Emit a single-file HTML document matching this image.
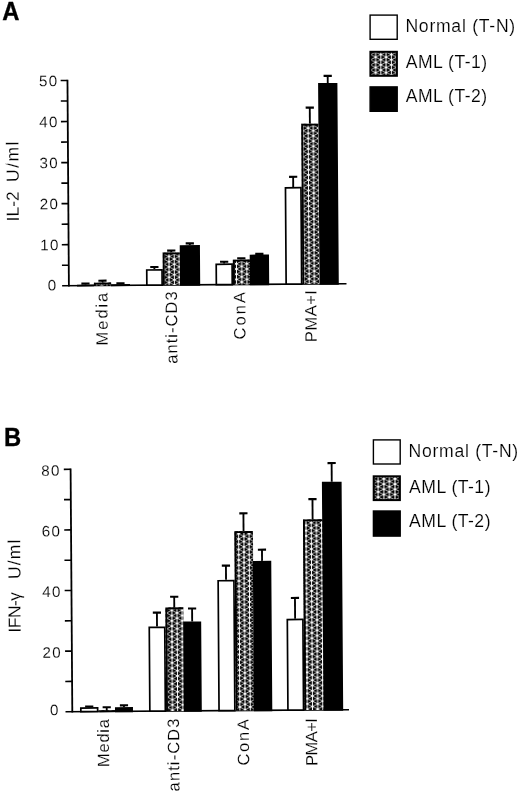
<!DOCTYPE html>
<html><head><meta charset="utf-8"><title>Figure</title>
<style>
html,body{margin:0;padding:0;background:#fff;}
body{width:520px;height:795px;overflow:hidden;font-family:"Liberation Sans",sans-serif;}
svg{display:block;will-change:transform;}
text{font-family:"Liberation Sans",sans-serif;fill:#000;}
.tk,.lg,.xl,.yl{stroke:#fff;stroke-width:0.15px;}
.tk{font-size:15.2px;letter-spacing:1.3px;}
.lg{font-size:17.6px;}
.xl{font-size:16.5px;}
.yl{font-size:17.5px;}
.pl{font-size:25.6px;font-weight:bold;stroke:#000;stroke-width:0.35px;}
</style></head><body>
<svg width="520" height="795" viewBox="0 0 520 795">
<rect width="520" height="795" fill="#fff"/>
<defs><pattern id="hA" patternUnits="userSpaceOnUse" x="169.2" y="257.2" width="10.37" height="5.2">
<rect x="0" y="0" width="10.37" height="5.2" fill="#000"/>
<path d="M0 0L10.37 5.2M0 5.2L10.37 0M0 -5.2L10.37 0M0 10.4L10.37 5.2" stroke="#fff" stroke-width="0.75" fill="none"/>
<path d="M0 -1V6.2M5.185 -1V6.2M10.37 -1V6.2" stroke="#fff" stroke-width="1.05" fill="none"/>
<g fill="#fff"><circle cx="0" cy="0" r="1.05"/><circle cx="10.37" cy="0" r="1.05"/><circle cx="0" cy="5.2" r="1.05"/><circle cx="10.37" cy="5.2" r="1.05"/><circle cx="5.185" cy="2.6" r="1.05"/></g>
</pattern><pattern id="hB" patternUnits="userSpaceOnUse" x="172.5" y="684.55" width="10.37" height="5.25">
<rect x="0" y="0" width="10.37" height="5.25" fill="#000"/>
<path d="M0 0L10.37 5.25M0 5.25L10.37 0M0 -5.25L10.37 0M0 10.5L10.37 5.25" stroke="#fff" stroke-width="0.75" fill="none"/>
<path d="M0 -1V6.25M5.185 -1V6.25M10.37 -1V6.25" stroke="#fff" stroke-width="1.05" fill="none"/>
<g fill="#fff"><circle cx="0" cy="0" r="1.05"/><circle cx="10.37" cy="0" r="1.05"/><circle cx="0" cy="5.25" r="1.05"/><circle cx="10.37" cy="5.25" r="1.05"/><circle cx="5.185" cy="2.625" r="1.05"/></g>
</pattern><pattern id="hLA" patternUnits="userSpaceOnUse" x="375.6" y="57.15" width="10.5" height="5.15">
<rect x="0" y="0" width="10.5" height="5.15" fill="#000"/>
<path d="M0 0L10.5 5.15M0 5.15L10.5 0M0 -5.15L10.5 0M0 10.3L10.5 5.15" stroke="#fff" stroke-width="0.75" fill="none"/>
<path d="M0 -1V6.15M5.25 -1V6.15M10.5 -1V6.15" stroke="#fff" stroke-width="1.05" fill="none"/>
<g fill="#fff"><circle cx="0" cy="0" r="1.05"/><circle cx="10.5" cy="0" r="1.05"/><circle cx="0" cy="5.15" r="1.05"/><circle cx="10.5" cy="5.15" r="1.05"/><circle cx="5.25" cy="2.575" r="1.05"/></g>
</pattern><pattern id="hLB" patternUnits="userSpaceOnUse" x="378.2" y="481.5" width="11.2" height="5.2">
<rect x="0" y="0" width="11.2" height="5.2" fill="#000"/>
<path d="M0 0L11.2 5.2M0 5.2L11.2 0M0 -5.2L11.2 0M0 10.4L11.2 5.2" stroke="#fff" stroke-width="0.75" fill="none"/>
<path d="M0 -1V6.2M5.6 -1V6.2M11.2 -1V6.2" stroke="#fff" stroke-width="1.05" fill="none"/>
<g fill="#fff"><circle cx="0" cy="0" r="1.05"/><circle cx="11.2" cy="0" r="1.05"/><circle cx="0" cy="5.2" r="1.05"/><circle cx="11.2" cy="5.2" r="1.05"/><circle cx="5.6" cy="2.6" r="1.05"/></g>
</pattern></defs>
<g transform="rotate(-0.4 68.9 285.7)"><path d="M68.9 79.70V286.50" stroke="#000" stroke-width="1.8"/>
<path d="M62.10000000000001 285.7H346.5" stroke="#000" stroke-width="1.7"/>
<path d="M62.10000000000001 244.66H68.9" stroke="#000" stroke-width="1.6"/>
<path d="M62.10000000000001 203.62H68.9" stroke="#000" stroke-width="1.6"/>
<path d="M62.10000000000001 162.58H68.9" stroke="#000" stroke-width="1.6"/>
<path d="M62.10000000000001 121.54H68.9" stroke="#000" stroke-width="1.6"/>
<path d="M62.10000000000001 80.50H68.9" stroke="#000" stroke-width="1.6"/>
<path d="M62.10000000000001 265.18H68.9" stroke="#000" stroke-width="1.6"/>
<path d="M62.10000000000001 224.14H68.9" stroke="#000" stroke-width="1.6"/>
<path d="M62.10000000000001 183.10H68.9" stroke="#000" stroke-width="1.6"/>
<path d="M62.10000000000001 142.06H68.9" stroke="#000" stroke-width="1.6"/>
<path d="M62.10000000000001 101.02H68.9" stroke="#000" stroke-width="1.6"/>
<text x="57.50" y="290.30" text-anchor="end" class="tk">0</text>
<text x="59.90" y="250.16" text-anchor="end" class="tk">10</text>
<text x="59.90" y="209.12" text-anchor="end" class="tk">20</text>
<text x="59.90" y="168.08" text-anchor="end" class="tk">30</text>
<text x="59.90" y="127.04" text-anchor="end" class="tk">40</text>
<text x="59.90" y="86.00" text-anchor="end" class="tk">50</text>
<path d="M81.40 283.70H89.60" stroke="#000" stroke-width="2.1" fill="none"/><path d="M85.50 283.70V284.70" stroke="#000" stroke-width="1.85" fill="none"/>
<rect x="77.85" y="285.55" width="15.30" height="0.15" fill="#fff" stroke="#000" stroke-width="1.7"/>
<path d="M98.40 280.90H106.60" stroke="#000" stroke-width="2.1" fill="none"/><path d="M102.50 280.90V282.90" stroke="#000" stroke-width="1.85" fill="none"/>
<rect x="94.00" y="282.90" width="17.30" height="2.80" fill="url(#hA)"/><path d="M94.85 285.70V283.85H111.00" fill="none" stroke="#000" stroke-width="1.9"/>
<path d="M116.40 283.70H124.60" stroke="#000" stroke-width="2.1" fill="none"/><path d="M120.50 283.70V284.50" stroke="#000" stroke-width="1.85" fill="none"/>
<rect x="111.85" y="285.35" width="17.30" height="0.35" fill="#000" stroke="#000" stroke-width="1.7"/>
<path d="M150.40 267.60H158.60" stroke="#000" stroke-width="2.1" fill="none"/><path d="M154.50 267.60V269.70" stroke="#000" stroke-width="1.85" fill="none"/>
<rect x="146.85" y="270.55" width="15.30" height="15.15" fill="#fff" stroke="#000" stroke-width="1.7"/>
<path d="M167.40 251.30H175.60" stroke="#000" stroke-width="2.1" fill="none"/><path d="M171.50 251.30V253.20" stroke="#000" stroke-width="1.85" fill="none"/>
<rect x="163.00" y="253.20" width="17.30" height="32.50" fill="url(#hA)"/><path d="M163.85 285.70V254.15H180.00" fill="none" stroke="#000" stroke-width="1.9"/>
<path d="M186.00 244.20H194.20" stroke="#000" stroke-width="2.1" fill="none"/><path d="M190.10 244.20V245.90" stroke="#000" stroke-width="1.85" fill="none"/>
<rect x="180.85" y="246.75" width="18.50" height="38.95" fill="#000" stroke="#000" stroke-width="1.7"/>
<path d="M220.20 262.80H228.40" stroke="#000" stroke-width="2.1" fill="none"/><path d="M224.30 262.80V264.50" stroke="#000" stroke-width="1.85" fill="none"/>
<rect x="216.35" y="265.35" width="15.90" height="20.35" fill="#fff" stroke="#000" stroke-width="1.7"/>
<path d="M237.40 259.50H245.60" stroke="#000" stroke-width="2.1" fill="none"/><path d="M241.50 259.50V260.80" stroke="#000" stroke-width="1.85" fill="none"/>
<rect x="233.10" y="260.80" width="17.10" height="24.90" fill="url(#hA)"/><path d="M233.95 285.70V261.75H249.90" fill="none" stroke="#000" stroke-width="1.9"/>
<path d="M255.45 255.20H263.65" stroke="#000" stroke-width="2.1" fill="none"/><path d="M259.55 255.20V255.90" stroke="#000" stroke-width="1.85" fill="none"/>
<rect x="250.75" y="256.75" width="17.60" height="28.95" fill="#000" stroke="#000" stroke-width="1.7"/>
<path d="M289.80 178.40H298.00" stroke="#000" stroke-width="2.1" fill="none"/><path d="M293.90 178.40V188.50" stroke="#000" stroke-width="1.85" fill="none"/>
<rect x="286.15" y="189.35" width="15.50" height="96.35" fill="#fff" stroke="#000" stroke-width="1.7"/>
<path d="M306.90 109.30H315.10" stroke="#000" stroke-width="2.1" fill="none"/><path d="M311.00 109.30V125.40" stroke="#000" stroke-width="1.85" fill="none"/>
<rect x="302.50" y="125.40" width="17.30" height="160.30" fill="url(#hA)"/><path d="M303.35 285.70V126.35H319.50" fill="none" stroke="#000" stroke-width="1.9"/>
<path d="M325.05 77.70H333.25" stroke="#000" stroke-width="2.1" fill="none"/><path d="M329.15 77.70V84.80" stroke="#000" stroke-width="1.85" fill="none"/>
<rect x="320.35" y="85.65" width="17.60" height="200.05" fill="#000" stroke="#000" stroke-width="1.7"/></g>
<g transform="rotate(-0.4 72.3 711.7)"><path d="M72.3 468.50V712.50" stroke="#000" stroke-width="1.8"/>
<path d="M65.5 711.7H349.0" stroke="#000" stroke-width="1.7"/>
<path d="M65.5 651.10H72.3" stroke="#000" stroke-width="1.6"/>
<path d="M65.5 590.50H72.3" stroke="#000" stroke-width="1.6"/>
<path d="M65.5 529.90H72.3" stroke="#000" stroke-width="1.6"/>
<path d="M65.5 469.30H72.3" stroke="#000" stroke-width="1.6"/>
<path d="M65.5 681.40H72.3" stroke="#000" stroke-width="1.6"/>
<path d="M65.5 620.80H72.3" stroke="#000" stroke-width="1.6"/>
<path d="M65.5 560.20H72.3" stroke="#000" stroke-width="1.6"/>
<path d="M65.5 499.60H72.3" stroke="#000" stroke-width="1.6"/>
<text x="59.70" y="715.10" text-anchor="end" class="tk">0</text>
<text x="62.50" y="657.50" text-anchor="end" class="tk">20</text>
<text x="62.50" y="596.90" text-anchor="end" class="tk">40</text>
<text x="62.50" y="536.30" text-anchor="end" class="tk">60</text>
<text x="62.50" y="475.70" text-anchor="end" class="tk">80</text>
<path d="M85.15 706.60H93.35" stroke="#000" stroke-width="2.1" fill="none"/><path d="M89.25 706.60V707.30" stroke="#000" stroke-width="1.85" fill="none"/>
<rect x="80.85" y="708.15" width="16.80" height="3.55" fill="#fff" stroke="#000" stroke-width="1.7"/>
<path d="M102.65 707.50H110.85" stroke="#000" stroke-width="2.1" fill="none"/><path d="M106.75 707.50V710.50" stroke="#000" stroke-width="1.85" fill="none"/>
<rect x="98.50" y="710.50" width="16.80" height="1.20" fill="url(#hB)"/><path d="M99.35 711.70V711.45H115.00" fill="none" stroke="#000" stroke-width="1.9"/>
<path d="M119.90 705.70H128.10" stroke="#000" stroke-width="2.1" fill="none"/><path d="M124.00 705.70V707.50" stroke="#000" stroke-width="1.85" fill="none"/>
<rect x="115.85" y="708.35" width="16.30" height="3.35" fill="#000" stroke="#000" stroke-width="1.7"/>
<path d="M153.50 613.20H161.70" stroke="#000" stroke-width="2.1" fill="none"/><path d="M157.60 613.20V627.10" stroke="#000" stroke-width="1.85" fill="none"/>
<rect x="149.85" y="627.95" width="15.50" height="83.75" fill="#fff" stroke="#000" stroke-width="1.7"/>
<path d="M170.90 597.50H179.10" stroke="#000" stroke-width="2.1" fill="none"/><path d="M175.00 597.50V608.10" stroke="#000" stroke-width="1.85" fill="none"/>
<rect x="166.20" y="608.10" width="17.90" height="103.60" fill="url(#hB)"/><path d="M167.05 711.70V609.05H183.80" fill="none" stroke="#000" stroke-width="1.9"/>
<path d="M188.70 609.30H196.90" stroke="#000" stroke-width="2.1" fill="none"/><path d="M192.80 609.30V622.30" stroke="#000" stroke-width="1.85" fill="none"/>
<rect x="184.65" y="623.15" width="16.30" height="88.55" fill="#000" stroke="#000" stroke-width="1.7"/>
<path d="M222.85 566.70H231.05" stroke="#000" stroke-width="2.1" fill="none"/><path d="M226.95 566.70V580.90" stroke="#000" stroke-width="1.85" fill="none"/>
<rect x="219.05" y="581.75" width="15.80" height="129.95" fill="#fff" stroke="#000" stroke-width="1.7"/>
<path d="M240.70 514.50H248.90" stroke="#000" stroke-width="2.1" fill="none"/><path d="M244.80 514.50V532.30" stroke="#000" stroke-width="1.85" fill="none"/>
<rect x="235.70" y="532.30" width="18.50" height="179.40" fill="url(#hB)"/><path d="M236.55 711.70V533.25H253.90" fill="none" stroke="#000" stroke-width="1.9"/>
<path d="M259.00 551.00H267.20" stroke="#000" stroke-width="2.1" fill="none"/><path d="M263.10 551.00V562.20" stroke="#000" stroke-width="1.85" fill="none"/>
<rect x="254.75" y="563.05" width="16.70" height="148.65" fill="#000" stroke="#000" stroke-width="1.7"/>
<path d="M291.65 599.50H299.85" stroke="#000" stroke-width="2.1" fill="none"/><path d="M295.75 599.50V620.20" stroke="#000" stroke-width="1.85" fill="none"/>
<rect x="287.95" y="621.05" width="15.60" height="90.65" fill="#fff" stroke="#000" stroke-width="1.7"/>
<path d="M309.85 500.80H318.05" stroke="#000" stroke-width="2.1" fill="none"/><path d="M313.95 500.80V521.00" stroke="#000" stroke-width="1.85" fill="none"/>
<rect x="304.40" y="521.00" width="19.40" height="190.70" fill="url(#hB)"/><path d="M305.25 711.70V521.95H323.50" fill="none" stroke="#000" stroke-width="1.9"/>
<path d="M329.25 464.90H337.45" stroke="#000" stroke-width="2.1" fill="none"/><path d="M333.35 464.90V483.60" stroke="#000" stroke-width="1.85" fill="none"/>
<rect x="324.35" y="484.45" width="18.00" height="227.25" fill="#000" stroke="#000" stroke-width="1.7"/></g>
<text x="405.40" y="31.80" textLength="109.80" lengthAdjust="spacing" class="lg">Normal (T-N)</text>
<text x="405.70" y="68.00" textLength="81.40" lengthAdjust="spacing" class="lg">AML (T-1)</text>
<text x="405.70" y="102.30" textLength="81.40" lengthAdjust="spacing" class="lg">AML (T-2)</text>
<text x="408.50" y="456.80" textLength="109.70" lengthAdjust="spacing" class="lg">Normal (T-N)</text>
<text x="409.00" y="493.00" textLength="81.50" lengthAdjust="spacing" class="lg">AML (T-1)</text>
<text x="409.00" y="527.30" textLength="81.50" lengthAdjust="spacing" class="lg">AML (T-2)</text>
<rect x="370.10" y="15.10" width="27.10" height="24.20" fill="#fff" stroke="#000" stroke-width="1.4"/>
<rect x="370.40" y="51.80" width="26.50" height="24.00" fill="url(#hLA)" stroke="#000" stroke-width="2.0"/>
<rect x="370.10" y="86.90" width="27.10" height="24.40" fill="#000" stroke="#000" stroke-width="1.4"/>
<rect x="373.40" y="439.90" width="26.80" height="24.10" fill="#fff" stroke="#000" stroke-width="1.4"/>
<rect x="373.70" y="476.30" width="26.20" height="23.80" fill="url(#hLB)" stroke="#000" stroke-width="2.0"/>
<rect x="373.40" y="511.00" width="26.80" height="25.10" fill="#000" stroke="#000" stroke-width="1.4"/>
<text transform="translate(2.3 19.8) scale(0.93 1)" class="pl">A</text>
<text transform="translate(3.9 445.9) scale(0.93 1)" class="pl">B</text>
<text transform="translate(18.90 221.20) rotate(-90.4)" textLength="30.00" lengthAdjust="spacing" class="yl">IL-2</text>
<text transform="translate(18.70 182.00) rotate(-90.4)" textLength="40.50" lengthAdjust="spacing" class="yl">U/ml</text>
<text transform="translate(20.70 632.40) rotate(-90.4)" textLength="40.40" lengthAdjust="spacing" class="yl">IFN-γ</text>
<text transform="translate(20.40 578.90) rotate(-90.4)" textLength="39.30" lengthAdjust="spacing" class="yl">U/ml</text>
<text transform="translate(107.80 345.40) rotate(-90.4)" textLength="52.70" lengthAdjust="spacing" class="xl">Media</text>
<text transform="translate(177.40 363.80) rotate(-90.4)" textLength="72.50" lengthAdjust="spacing" class="xl">anti-CD3</text>
<text transform="translate(245.60 339.60) rotate(-90.4)" textLength="47.70" lengthAdjust="spacing" class="xl">ConA</text>
<text transform="translate(316.80 342.00) rotate(-90.4)" textLength="51.90" lengthAdjust="spacing" class="xl">PMA+I</text>
<text transform="translate(109.20 767.00) rotate(-90.4)" textLength="47.90" lengthAdjust="spacing" class="xl">Media</text>
<text transform="translate(179.50 791.40) rotate(-90.4)" textLength="72.90" lengthAdjust="spacing" class="xl">anti-CD3</text>
<text transform="translate(249.20 765.60) rotate(-90.4)" textLength="46.50" lengthAdjust="spacing" class="xl">ConA</text>
<text transform="translate(317.40 765.80) rotate(-90.4)" textLength="47.70" lengthAdjust="spacing" class="xl">PMA+I</text>
</svg>
</body></html>
